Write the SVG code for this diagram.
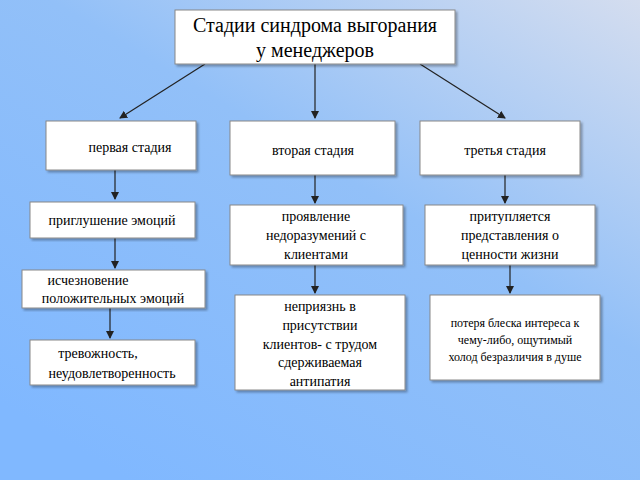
<svg xmlns="http://www.w3.org/2000/svg" width="640" height="480" viewBox="0 0 640 480">
<defs>
<linearGradient id="bg" x1="0.2" y1="1" x2="1" y2="0">
<stop offset="0" stop-color="#80b8ff"/>
<stop offset="0.55" stop-color="#92c0f8"/>
<stop offset="1" stop-color="#d4ddef"/>
</linearGradient>
<marker id="ah" markerWidth="8" markerHeight="8" refX="7" refY="4" orient="auto" markerUnits="userSpaceOnUse">
<path d="M0,0 L8,4 L0,8 z" fill="#222"/>
</marker>
<filter id="sh"><feDropShadow dx="2" dy="2" stdDeviation="1" flood-opacity="0.3"/></filter>
</defs>
<style>
rect{fill:#fff;stroke:#888;stroke-width:1;filter:url(#sh)}
text{font-family:"Liberation Serif","Times New Roman","DejaVu Serif",serif;font-size:14px;fill:#000;text-anchor:middle}
.c line{stroke:#222;stroke-width:1.2;marker-end:url(#ah)}
</style>
<rect x="0" y="0" width="640" height="480" style="fill:url(#bg);stroke:none;filter:none"/>
<g class="c" id="connectors">
<line x1="205" y1="64" x2="120" y2="118"/>
<line x1="315" y1="64" x2="315" y2="118"/>
<line x1="420" y1="64" x2="505" y2="118"/>
<line x1="115" y1="170" x2="115" y2="199"/>
<line x1="315" y1="175" x2="315" y2="203"/>
<line x1="505" y1="175" x2="505" y2="203"/>
<line x1="115" y1="238" x2="115" y2="268"/>
<line x1="315" y1="265" x2="315" y2="293"/>
<line x1="510" y1="265" x2="510" y2="293"/>
<line x1="110" y1="308" x2="110" y2="338"/>
</g>
<g id="title"><rect x="175" y="10" width="280" height="54"/>
<text x="315" y="32" style="font-size:20px">Стадии синдрома  выгорания</text>
<text x="315" y="57" style="font-size:20px">у менеджеров</text></g>
<g id="s1"><rect x="46" y="121" width="150" height="49"/><text x="130" y="152">первая стадия</text></g>
<g id="s2"><rect x="230" y="121" width="165" height="54"/><text x="313" y="155">вторая стадия</text></g>
<g id="s3"><rect x="420" y="121" width="160" height="54"/><text x="505" y="155">третья стадия</text></g>
<g id="n4"><rect x="30" y="202" width="165" height="36"/><text x="112" y="225">приглушение эмоций</text></g>
<g id="n5"><rect x="230" y="205" width="173" height="60"/>
<text x="316" y="221">проявление</text><text x="316" y="240">недоразумений с</text><text x="316" y="259">клиентами</text></g>
<g id="n6"><rect x="425" y="205" width="170" height="60"/>
<text x="510" y="221">притупляется</text><text x="510" y="240">представления о</text><text x="510" y="259">ценности жизни</text></g>
<g id="n7"><rect x="22" y="270" width="183" height="38"/>
<text x="88" y="285">исчезновение</text><text x="113" y="303">положительных эмоций</text></g>
<g id="n8"><rect x="235" y="295" width="170" height="95"/>
<text x="320" y="311">неприязнь  в</text><text x="320" y="330">присутствии</text><text x="320" y="349">клиентов- с трудом</text><text x="320" y="367">сдерживаемая</text><text x="320" y="386">антипатия</text></g>
<g id="n9"><rect x="430" y="295" width="170" height="85"/>
<text x="515" y="327" style="font-size:12px">потеря блеска интереса к</text><text x="515" y="344" style="font-size:12px">чему-либо, ощутимый</text><text x="515" y="361" style="font-size:12px">холод безразличия в душе</text></g>
<g id="n10"><rect x="30" y="340" width="165" height="45"/>
<text x="98" y="358">тревожность,</text><text x="112" y="378">неудовлетворенность</text></g>
</svg>
